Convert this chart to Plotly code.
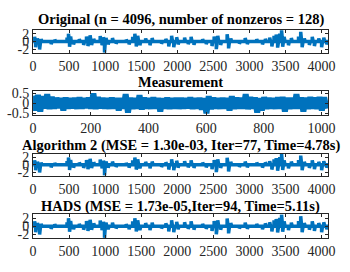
import numpy as np
import plotly.graph_objects as go

N = 4096
M = 1024

# Sparse signal: spike positions and amplitudes
spike_pos = [20, 35, 60, 90, 110, 250, 300, 470, 490, 505, 520, 560, 640, 700,
             740, 760, 790, 810, 840, 930, 955, 975, 990, 1010, 1040, 1100, 1150,
             1290, 1330, 1380, 1410, 1430, 1450, 1480, 1560, 1620, 1650, 1780, 1840,
             1880, 1920, 1950, 1990, 2010, 2100, 2150, 2190, 2230, 2350, 2400,
             2480, 2510, 2540, 2560, 2600, 2690, 2710, 2740, 2860, 2940, 2970,
             3100, 3180, 3220, 3280, 3310, 3340, 3370, 3390, 3420, 3445, 3460, 3480,
             3540, 3580, 3680, 3710, 3730, 3760, 3830, 3870, 3900, 3960, 4000, 4030, 4070]
spike_val = [1.2, -1.5, 0.8, -2.1, 0.6, -0.7, 0.5, 1.0, 2.0, -1.4, 1.3, -0.8, 0.6, -0.9,
             1.3, -1.2, 1.6, -0.9, 0.7, 1.4, -1.0, 1.1, -2.9, 0.9, -0.8, 0.9, -0.6,
             0.5, -0.8, 1.2, 2.0, -1.3, 1.5, -1.0, 0.8, -1.0, 0.9, -0.6, 0.7,
             -1.3, 1.5, -1.5, 1.1, -0.8, 1.0, -0.7, 1.2, -0.9, 0.6, -0.7,
             -1.2, 1.3, -2.0, 1.5, -0.9, 1.9, -1.8, 0.8, -0.6, 0.9, -0.7,
             0.6, -0.8, 0.7, 1.0, -1.3, 1.5, 1.8, -1.6, 2.1, 2.9, -1.4, 1.2,
             -1.0, 0.9, 1.3, 2.5, -1.5, 0.8, -0.9, 1.2, -1.2, 0.8, -1.5, 1.0, -0.8]

# Measurement envelope (every 16 samples), upper and lower extremes
meas_upper = [0.38, 0.42, 0.36, 0.46, 0.33, 0.28, 0.26, 0.29, 0.26, 0.27, 0.30, 0.26,
              0.29, 0.50, 0.31, 0.28, 0.26, 0.29, 0.27, 0.26, 0.46, 0.28, 0.26, 0.41,
              0.29, 0.26, 0.30, 0.27, 0.26, 0.29, 0.26, 0.28, 0.27, 0.26, 0.30, 0.26,
              0.28, 0.26, 0.36, 0.29, 0.26, 0.28, 0.27, 0.36, 0.29, 0.28, 0.46, 0.31,
              0.29, 0.26, 0.31, 0.28, 0.26, 0.30, 0.32, 0.28, 0.27, 0.46, 0.30, 0.28,
              0.31, 0.29, 0.32, 0.30]
meas_lower = [-0.36, -0.41, -0.26, -0.28, -0.26, -0.24, -0.36, -0.26, -0.25, -0.27, -0.26, -0.24,
              -0.26, -0.28, -0.25, -0.26, -0.27, -0.26, -0.36, -0.26, -0.46, -0.28, -0.26, -0.31,
              -0.26, -0.27, -0.26, -0.41, -0.26, -0.28, -0.26, -0.27, -0.26, -0.25, -0.28, -0.26,
              -0.31, -0.50, -0.29, -0.26, -0.27, -0.26, -0.36, -0.28, -0.26, -0.27, -0.29, -0.26,
              -0.46, -0.36, -0.28, -0.26, -0.27, -0.26, -0.41, -0.28, -0.26, -0.27, -0.41, -0.28,
              -0.26, -0.28, -0.36, -0.27]

titles = ["Original (n = 4096, number of nonzeros = 128)",
          "Measurement",
          "Algorithm 2 (MSE = 1.30e-03, Iter=77, Time=4.78s)",
          "HADS (MSE = 1.73e-05,Iter=94, Time=5.11s)"]

sig = np.zeros(N)
sig[np.array(spike_pos)] = spike_val
xs = np.arange(1, N + 1)

mx, my = [], []
for k in range(len(meas_upper)):
    mx += [k * 16 + 1, k * 16 + 9]
    my += [meas_upper[k], meas_lower[k]]

blue = "#0072BD"
fig = go.Figure()
fig.add_trace(go.Scatter(x=xs, y=sig, mode="lines", line=dict(color=blue, width=3.5), xaxis="x", yaxis="y"))
fig.add_trace(go.Scatter(x=mx, y=my, mode="lines", line=dict(color=blue, width=6), xaxis="x2", yaxis="y2"))
fig.add_trace(go.Scatter(x=xs, y=sig, mode="lines", line=dict(color=blue, width=3.5), xaxis="x3", yaxis="y3"))
fig.add_trace(go.Scatter(x=xs, y=sig, mode="lines", line=dict(color=blue, width=3.5), xaxis="x4", yaxis="y4"))

H = 272.0
boxes = [(26, 50), (90, 115), (155, 178), (218, 243)]
title_y = [15, 80, 146, 210]
xd = [30 / 350, 335 / 350]
axfont = dict(family="Liberation Serif", size=14, color="#262626")
common = dict(showline=True, linecolor="#262626", linewidth=1, mirror="ticks",
              ticks="inside", ticklen=3, tickcolor="#262626", showgrid=False,
              zeroline=False, tickfont=axfont, ticklabelstandoff=0)
layout = dict(width=350, height=272, margin=dict(l=0, r=0, t=0, b=0),
              plot_bgcolor="white", paper_bgcolor="white", showlegend=False)
for i in range(4):
    s = "" if i == 0 else str(i + 1)
    top, bot = boxes[i]
    if i == 1:
        xr, xt = [0, M], list(range(0, 1001, 200))
        yr, yt, ytt = [-0.6, 0.6], [-0.5, 0, 0.5], ["-0.5", "0", "0.5"]
    else:
        xr, xt = [0, N], list(range(0, 4001, 500))
        yr, yt, ytt = [-3, 3], [-2, 0, 2], ["-2", "0", "2"]
    layout["xaxis" + s] = dict(domain=xd, range=xr, tickvals=xt, anchor="y" + s, **common)
    layout["yaxis" + s] = dict(domain=[1 - bot / H, 1 - top / H], range=yr, tickvals=yt,
                               ticktext=ytt, anchor="x" + s, **common)
fig.update_layout(**layout)
for i in range(4):
    fig.add_annotation(text="<b>" + titles[i] + "</b>", xref="paper", yref="paper",
                       x=(xd[0] + xd[1]) / 2, y=1 - title_y[i] / H, showarrow=False,
                       font=dict(family="Liberation Serif", size=14.5, color="black"),
                       xanchor="center", yanchor="middle")
fig.write_html("out.html", config={"displayModeBar": False},
               post_script="document.body.style.margin='0';document.body.style.overflow='hidden';")
